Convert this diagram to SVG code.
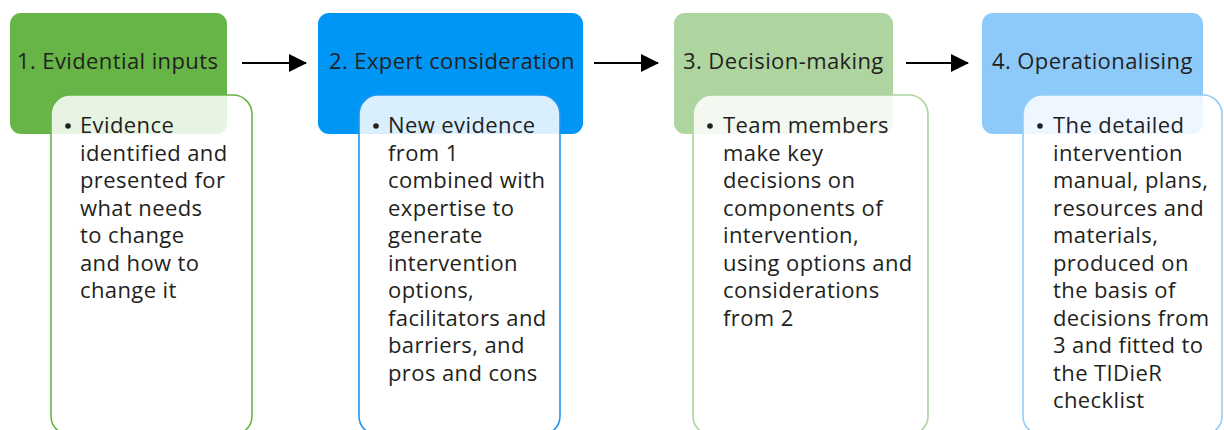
<svg xmlns="http://www.w3.org/2000/svg" width="1224" height="430" viewBox="0 0 1224 430">
<defs>
<marker id="ah" markerWidth="18" markerHeight="18" refX="17" refY="9" orient="auto" markerUnits="userSpaceOnUse" viewBox="0 0 18 18">
<path d="M0,0 L18,9 L0,18 z" fill="#000"/>
</marker>
<style>
text{font-family:"Open Sans","Noto Sans","Liberation Sans",sans-serif;fill:#231f20;font-size:22px;letter-spacing:0.4px}
.hd{stroke:none}
.det{fill:#fff;fill-opacity:0.85;stroke-width:1.6}
.conn line{stroke:#000;stroke-width:2}
</style>
</defs>
<rect width="1224" height="430" fill="#fff"/>
<g id="node1">
<rect class="hd" x="10" y="13" width="217" height="121" rx="11" fill="#66b546"/>
<text x="17" y="69">1. Evidential inputs</text>
<rect class="det" x="51" y="95" width="201" height="340" rx="19" stroke="#66b546"/>
<circle cx="68" cy="126" r="2.8" fill="#231f20"/>
<text x="80"><tspan x="80" y="133">Evidence</tspan><tspan x="80" y="160.5">identified and</tspan><tspan x="80" y="188">presented for</tspan><tspan x="80" y="215.5">what needs</tspan><tspan x="80" y="243">to change</tspan><tspan x="80" y="270.5">and how to</tspan><tspan x="80" y="298">change it</tspan></text>
</g>
<g id="node2">
<rect class="hd" x="318" y="13" width="265" height="121" rx="11" fill="#0096f5"/>
<text x="329" y="69">2. Expert consideration</text>
<rect class="det" x="359" y="95" width="201" height="340" rx="19" stroke="#1f97f2"/>
<circle cx="376" cy="126" r="2.8" fill="#231f20"/>
<text><tspan x="388" y="133">New evidence</tspan><tspan x="388" y="160.5">from 1</tspan><tspan x="388" y="188">combined with</tspan><tspan x="388" y="215.5">expertise to</tspan><tspan x="388" y="243">generate</tspan><tspan x="388" y="270.5">intervention</tspan><tspan x="388" y="298">options,</tspan><tspan x="388" y="325.5">facilitators and</tspan><tspan x="388" y="353">barriers, and</tspan><tspan x="388" y="380.5">pros and cons</tspan></text>
</g>
<g id="node3">
<rect class="hd" x="674" y="13" width="219" height="121" rx="11" fill="#aed59f"/>
<text x="683" y="69">3. Decision-making</text>
<rect class="det" x="693" y="95" width="235" height="340" rx="19" stroke="#a9d69b"/>
<circle cx="710" cy="126" r="2.8" fill="#231f20"/>
<text><tspan x="723" y="133">Team members</tspan><tspan x="723" y="160.5">make key</tspan><tspan x="723" y="188">decisions on</tspan><tspan x="723" y="215.5">components of</tspan><tspan x="723" y="243">intervention,</tspan><tspan x="723" y="270.5">using options and</tspan><tspan x="723" y="298">considerations</tspan><tspan x="723" y="325.5">from 2</tspan></text>
</g>
<g id="node4">
<rect class="hd" x="982" y="13" width="221" height="121" rx="11" fill="#8dcafa"/>
<text x="992" y="69">4. Operationalising</text>
<rect class="det" x="1023" y="95" width="199" height="340" rx="19" stroke="#90cdf8"/>
<circle cx="1040" cy="126" r="2.8" fill="#231f20"/>
<text><tspan x="1053" y="133">The detailed</tspan><tspan x="1053" y="160.5">intervention</tspan><tspan x="1053" y="188">manual, plans,</tspan><tspan x="1053" y="215.5">resources and</tspan><tspan x="1053" y="243">materials,</tspan><tspan x="1053" y="270.5">produced on</tspan><tspan x="1053" y="298">the basis of</tspan><tspan x="1053" y="325.5">decisions from</tspan><tspan x="1053" y="353">3 and fitted to</tspan><tspan x="1053" y="380.5">the TIDieR</tspan><tspan x="1053" y="408">checklist</tspan></text>
</g>
<g class="conn" id="connectors">
<line x1="242" y1="63" x2="306" y2="63" marker-end="url(#ah)"/>
<line x1="594" y1="63" x2="658" y2="63" marker-end="url(#ah)"/>
<line x1="906" y1="63" x2="968" y2="63" marker-end="url(#ah)"/>
</g>
</svg>
